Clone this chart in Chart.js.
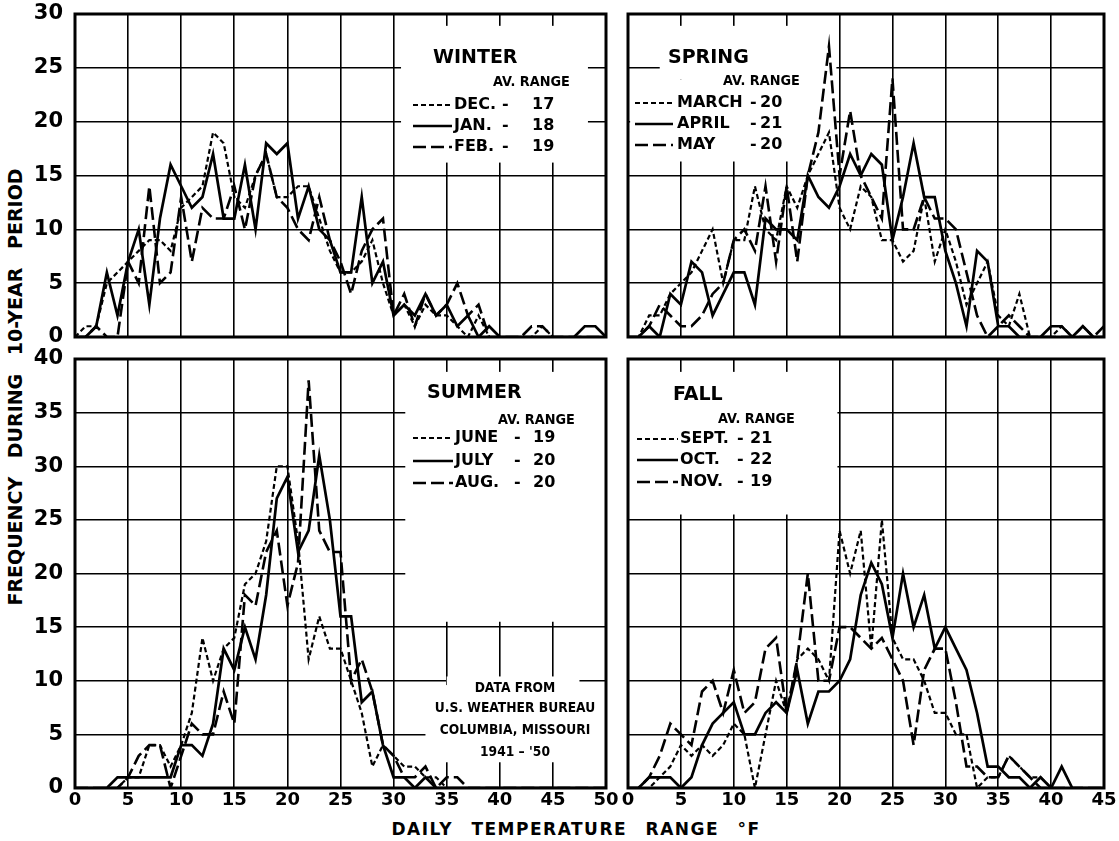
<!DOCTYPE html>
<html>
<head>
<meta charset="utf-8">
<script src="https://cdn.jsdelivr.net/npm/chart.js@4.4.1/dist/chart.umd.min.js"></script>
<style>
  html, body { margin: 0; padding: 0; background: #fff; }
  body { width: 1119px; height: 841px; position: relative; overflow: hidden; }
  canvas { position: absolute; }
  .axis-title { position: absolute; font-family: 'DejaVu Sans', 'Liberation Sans', sans-serif; font-weight: bold; color: #000; white-space: nowrap; }
  #ytitle { left: 15px; top: 387px; font-size: 19px; word-spacing: 12px; transform: translate(-50%, -50%) rotate(-90deg); }
  #xtitle { left: 576px; top: 829px; font-size: 17px; letter-spacing: 1.5px; word-spacing: 11px; transform: translate(-50%, -50%); }
</style>
</head>
<body>
<div id="ytitle" class="axis-title">FREQUENCY DURING 10-YEAR PERIOD</div>
<div id="xtitle" class="axis-title">DAILY TEMPERATURE RANGE °F</div>
<canvas id="winter" width="620" height="345" style="left:0;top:0"></canvas>
<canvas id="spring" width="505" height="345" style="left:614px;top:0"></canvas>
<canvas id="summer" width="620" height="496" style="left:0;top:345px"></canvas>
<canvas id="fall" width="505" height="496" style="left:614px;top:345px"></canvas>
<script>
// Number of days (1941-'50) with each daily temperature range, °F, at Columbia, Missouri.
// Index of each value = daily range in °F.
const decFreq = [0,1,1,5,6,7,8,9,9,8, 12,13,14,19,18,13,12,15,17,13, 13,14,14,11,8,6,6,7,9,5, 2,3,1,3,2,2,1,0,2,0, 0,0,0,0,1,0,0,0,0,0, 0];
const janFreq = [0,0,1,6,2,7,10,3,11,16, 14,12,13,17,11,11,16,10,18,17, 18,11,14,10,9,6,6,13,5,7, 2,3,2,4,2,3,1,2,0,1, 0,0,0,0,0,0,0,0,1,1, 0];
const febFreq = [0,0,1,0,0,7,5,14,5,6, 13,7,12,11,11,14,10,15,17,13, 12,10,9,13,9,7,4,8,10,11, 2,4,1,4,2,3,5,2,3,0, 0,0,0,1,1,0,0,0,0,0, 0];

const marFreq = [0,0,2,2,4,5,6,8,10,5, 9,9,14,10,9,14,12,15,17,19, 12,10,14,13,9,9,7,8,13,7, 10,7,3,5,7,2,1,4,0,0, 0,1,0,1,0,0];
const aprFreq = [0,0,1,0,4,3,7,6,2,4, 6,6,3,11,10,10,9,15,13,12, 14,17,15,17,16,9,13,18,13,13, 8,5,1,8,7,1,1,0,0,0, 1,1,0,1,0,0];
const mayFreq = [0,0,1,3,2,1,1,2,4,5, 9,10,8,14,7,14,7,15,19,27, 15,21,15,13,11,24,10,10,13,11, 11,10,6,2,0,1,2,1,0,0, 0,0,0,0,0,1];

const junFreq = [0,0,0,0,0,1,1,4,4,2, 4,7,14,10,13,14,19,20,23,30, 30,23,12,16,13,13,10,7,2,4, 3,2,2,1,1,0,0,0,0,0, 0,0,0,0,0,0,0,0,0,0, 0];
const julFreq = [0,0,0,0,1,1,1,1,1,1, 4,4,3,6,13,11,15,12,18,27, 29,22,24,31,25,16,16,8,9,4, 1,1,0,1,0,0,0,0,0,0, 0,0,0,0,0,0,0,0,0,0, 0];
const augFreq = [0,0,0,0,0,1,3,4,4,0, 3,6,5,5,9,6,18,17,22,24, 17,21,38,24,22,22,10,12,9,4, 3,1,1,2,0,1,1,0,0,0, 0,0,0,0,0,0,0,0,0,0, 0];

const sepFreq = [0,0,0,1,2,4,3,4,3,4, 6,5,0,5,10,7,12,13,12,10, 24,20,24,13,25,14,12,12,10,7, 7,5,5,0,1,1,3,2,1,1, 0,0,0,0,0,0];
const octFreq = [0,0,1,1,1,0,1,4,6,7, 8,5,5,7,8,7,11,6,9,9, 10,12,18,21,19,14,20,15,18,13, 15,13,11,7,2,2,1,1,0,1, 0,2,0,0,0,0];
const novFreq = [0,0,1,3,6,5,4,9,10,7, 11,7,8,13,14,7,12,20,10,10, 15,15,14,13,14,12,10,4,11,13, 13,8,2,2,1,1,3,2,1,0, 0,0,0,0,0,0];

// Legend text
const seasonNames = ['WINTER', 'SPRING', 'SUMMER', 'FALL'];
const winterMonths = ['DEC.', 'JAN.', 'FEB.'];
const springMonths = ['MARCH', 'APRIL', 'MAY'];
const summerMonths = ['JUNE', 'JULY', 'AUG.'];
const fallMonths = ['SEPT.', 'OCT.', 'NOV.'];
const winterAvg = [17, 18, 19];
const springAvg = [20, 21, 20];
const summerAvg = [19, 20, 20];
const fallAvg = [21, 22, 19];
const sourceNote = ['DATA FROM', 'U.S. WEATHER BUREAU', 'COLUMBIA, MISSOURI', "1941 – '50"];

const FONT = "'DejaVu Sans', 'Liberation Sans', sans-serif";

// first month: short dashes, second: solid, third: long dashes
const LINE_STYLES = [
  { borderDash: [5, 3], borderWidth: 2.2 },
  { borderDash: [], borderWidth: 2.7 },
  { borderDash: [13, 5], borderWidth: 2.6 }
];

function drawText(ctx, text, x, y, size, sx, align) {
  ctx.save();
  ctx.translate(x, y);
  ctx.scale(sx, 1);
  ctx.font = `bold ${size}px ${FONT}`;
  ctx.textAlign = align || 'left';
  ctx.textBaseline = 'middle';
  ctx.fillText(text, 0, 0);
  ctx.restore();
}

// White panels behind the lettering, frame around each plot, legend and notes
const seasonDecor = {
  id: 'seasonDecor',
  beforeDatasetsDraw(chart, args, o) {
    const { ctx, scales: { x, y } } = chart;
    ctx.save();
    ctx.fillStyle = '#fff';
    (o.masks || []).forEach(m => {
      const x0 = x.getPixelForValue(m[0]), x1 = x.getPixelForValue(m[1]);
      const y0 = y.getPixelForValue(m[3]), y1 = y.getPixelForValue(m[2]);
      ctx.fillRect(x0, y0, x1 - x0, y1 - y0);
    });
    ctx.restore();
  },
  afterDatasetsDraw(chart, args, o) {
    const { ctx, chartArea: a } = chart;
    ctx.save();
    ctx.strokeStyle = '#000';
    ctx.lineWidth = 3;
    ctx.strokeRect(a.left, a.top, a.right - a.left, a.bottom - a.top);

    const L = o.legend;
    ctx.fillStyle = '#000';
    drawText(ctx, L.title, a.left + L.titleDx, a.top + L.titleDy, 19, 1);
    drawText(ctx, 'AV. RANGE', a.left + L.avDx, a.top + L.avDy, 14, 0.92);
    chart.data.datasets.forEach((ds, i) => {
      const yy = a.top + L.rowDy[i];
      ctx.save();
      ctx.strokeStyle = '#000';
      ctx.lineWidth = ds.borderWidth;
      ctx.setLineDash(ds.borderDash || []);
      ctx.beginPath();
      ctx.moveTo(a.left + L.lineDx[0], yy);
      ctx.lineTo(a.left + L.lineDx[1], yy);
      ctx.stroke();
      ctx.restore();
      drawText(ctx, ds.label, a.left + L.labelDx, yy, 16, 1);
      drawText(ctx, '-', a.left + L.dashDx, yy, 16, 1);
      drawText(ctx, String(o.avg[i]), a.left + L.valueDx, yy, 16, 1);
    });
    if (o.note) {
      o.note.lines.forEach((t, i) => {
        drawText(ctx, t, a.left + o.note.dx, a.top + o.note.dy[i], 14, 0.88, 'center');
      });
    }
    ctx.restore();
  }
};

function makePanel(id, cfg) {
  const tickFontX = { family: FONT, size: 18, weight: 'bold' };
  const tickFontY = { family: FONT, size: 21, weight: 'bold' };
  return new Chart(document.getElementById(id), {
    type: 'line',
    data: {
      datasets: cfg.series.map((s, i) => ({
        label: cfg.months[i],
        data: s.map((v, d) => ({ x: d, y: v })),
        borderColor: '#000',
        backgroundColor: '#000',
        fill: false,
        pointRadius: 0,
        tension: 0,
        borderDash: LINE_STYLES[i].borderDash,
        borderWidth: LINE_STYLES[i].borderWidth
      }))
    },
    options: {
      responsive: false,
      animation: false,
      devicePixelRatio: 1,
      layout: { padding: cfg.padding },
      plugins: {
        legend: { display: false },
        tooltip: { enabled: false },
        seasonDecor: { masks: cfg.masks, legend: cfg.legend, avg: cfg.avg, note: cfg.note }
      },
      scales: {
        x: {
          type: 'linear', min: 0, max: cfg.xMax,
          ticks: { stepSize: 5, display: cfg.showX, font: tickFontX, color: '#000', padding: 2, maxRotation: 0, autoSkip: false },
          grid: { color: '#000', lineWidth: 1.6, drawTicks: false },
          border: { display: false },
          afterFit(s) { s.height = cfg.showX ? 30 : 0; s.paddingLeft = 0; s.paddingRight = 0; }
        },
        y: {
          min: 0, max: cfg.yMax,
          ticks: { stepSize: 5, display: cfg.showY, font: tickFontY, color: '#000', padding: 12 },
          grid: { color: '#000', lineWidth: 1.4, drawTicks: false },
          border: { display: false },
          afterFit(s) { s.width = cfg.showY ? 75 : 14; s.paddingTop = 0; s.paddingBottom = 0; }
        }
      }
    },
    plugins: [seasonDecor]
  });
}

makePanel('winter', {
  series: [decFreq, janFreq, febFreq], months: winterMonths, avg: winterAvg,
  xMax: 50, yMax: 30, showX: false, showY: true,
  padding: { left: 0, top: 14, right: 14, bottom: 8 },
  masks: [[30.7, 48.3, 16.2, 28.9]],
  legend: { title: seasonNames[0], titleDx: 358, titleDy: 44, avDx: 418, avDy: 68,
            rowDy: [91, 112, 133], lineDx: [338, 377], labelDx: 379, dashDx: 427, valueDx: 457 }
});

makePanel('spring', {
  series: [marFreq, aprFreq, mayFreq], months: springMonths, avg: springAvg,
  xMax: 45, yMax: 30, showX: false, showY: false,
  padding: { left: 0, top: 14, right: 15, bottom: 8 },
  masks: [[3, 19.7, 23.9, 28.9], [0.2, 19.7, 16.3, 23.9]],
  legend: { title: seasonNames[1], titleDx: 40, titleDy: 44, avDx: 95, avDy: 67,
            rowDy: [89, 110, 131], lineDx: [7, 45], labelDx: 49, dashDx: 122, valueDx: 132 }
});

makePanel('summer', {
  series: [junFreq, julFreq, augFreq], months: summerMonths, avg: summerAvg,
  xMax: 50, yMax: 40, showX: true, showY: true,
  padding: { left: 0, top: 14, right: 14, bottom: 23 },
  masks: [[31.1, 50, 15.5, 38.8], [33, 50, 2.4, 9.6], [35, 47.5, 9.6, 10.4]],
  legend: { title: seasonNames[2], titleDx: 352, titleDy: 34, avDx: 423, avDy: 61,
            rowDy: [79, 102, 124], lineDx: [338, 378], labelDx: 380, dashDx: 439, valueDx: 458 },
  note: { lines: sourceNote, dx: 440, dy: [329, 349, 371, 393] }
});

makePanel('fall', {
  series: [sepFreq, octFreq, novFreq], months: fallMonths, avg: fallAvg,
  xMax: 45, yMax: 40, showX: true, showY: false,
  padding: { left: 0, top: 14, right: 15, bottom: 23 },
  masks: [[0, 19.8, 25.5, 38.8]],
  legend: { title: seasonNames[3], titleDx: 45, titleDy: 36, avDx: 90, avDy: 60,
            rowDy: [80, 101, 123], lineDx: [9, 50], labelDx: 52, dashDx: 109, valueDx: 122 }
});
</script>
</body>
</html>
